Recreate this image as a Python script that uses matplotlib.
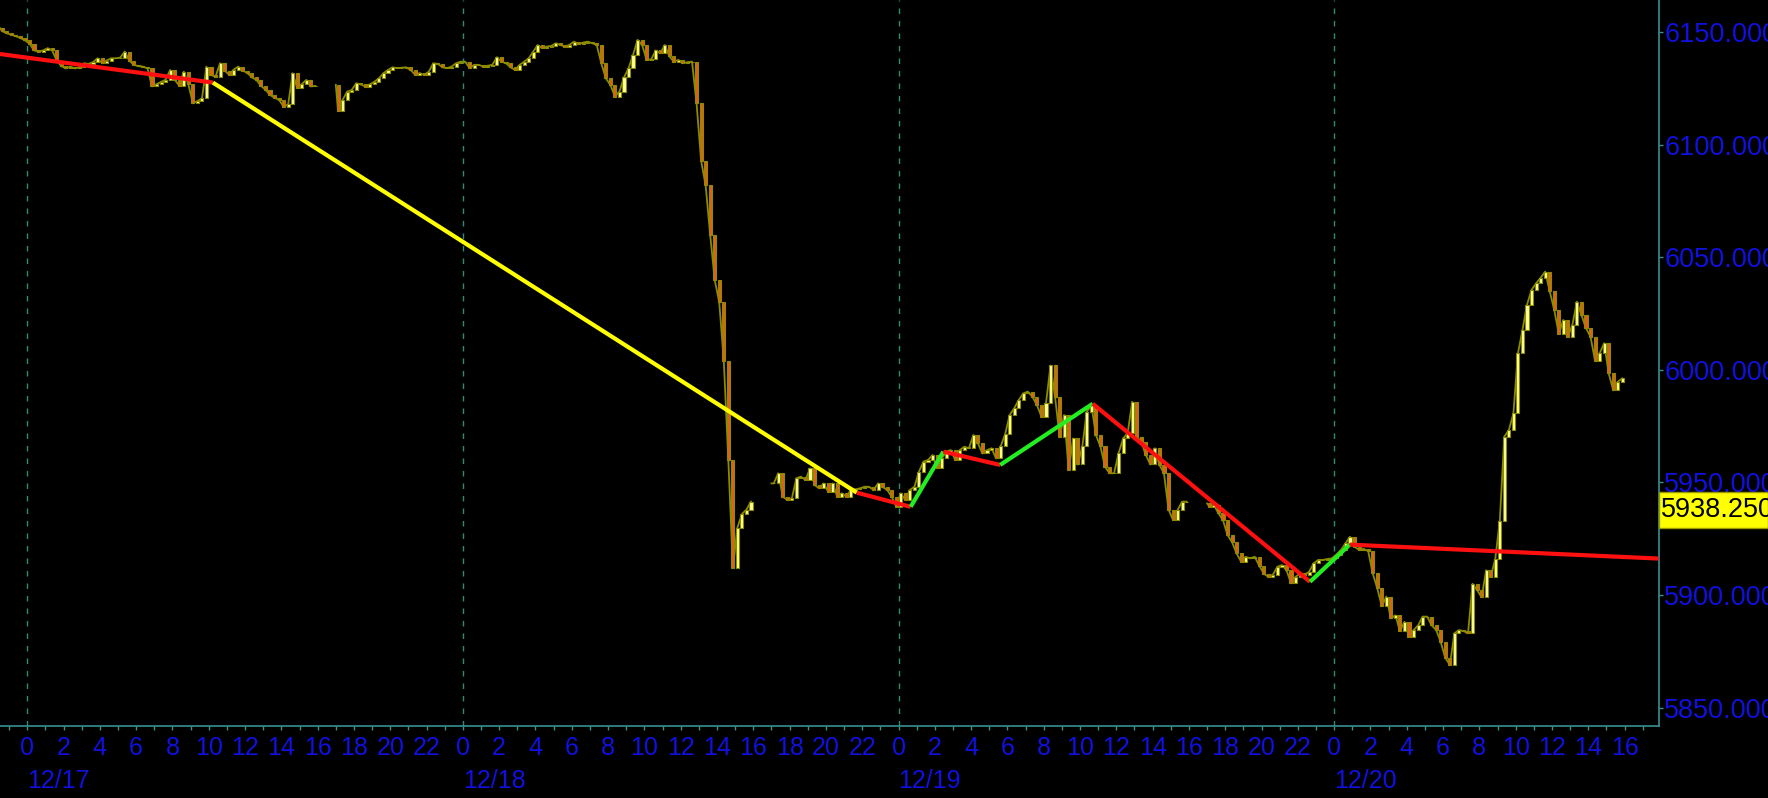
import numpy as np
import matplotlib.pyplot as plt
from matplotlib.patches import Rectangle
import matplotlib.transforms as mtransforms

plt.rcParams['font.family'] = ['Liberation Sans', 'DejaVu Sans']

# time axis: hours since 12/17 00:00, 15 minute bars
bar_step = 0.25
sess_start = [-1.5, 17.0, 41.0, 65.0]

# prices at each quarter hour mark of a session (first value = first open)
s1 = [6151.9, 6150.5, 6149.6, 6149.0, 6148.3, 6147.5, 6146.5, 6145.0, 6142.0, 6141.5,
      6142.0, 6143.0, 6142.0, 6137.5, 6135.0, 6134.0, 6134.8, 6134.0, 6134.5, 6136.3,
      6136.0, 6136.8, 6138.5, 6136.3, 6137.5, 6138.5, 6138.5, 6138.8, 6141.5, 6137.4,
      6135.6, 6135.0, 6134.8, 6134.0, 6126.0, 6127.0, 6128.0, 6129.0, 6133.3, 6129.0,
      6126.3, 6132.6, 6127.0, 6118.5, 6119.5, 6120.7, 6134.8, 6131.0, 6130.4, 6136.3,
      6133.0, 6131.2, 6133.5, 6134.8, 6133.0, 6132.0, 6130.0, 6128.9, 6126.3, 6124.5,
      6122.2, 6121.0, 6120.0, 6117.0, 6118.0, 6131.9, 6125.2, 6127.0, 6128.9, 6126.0,
      6126.2]
s2 = [6126.7, 6115.0, 6120.0, 6123.7, 6124.4, 6127.4, 6126.9, 6125.9, 6126.9, 6128.1,
      6129.6, 6131.9, 6133.3, 6134.5, 6134.1, 6134.3, 6134.5, 6133.3, 6131.1, 6131.9,
      6131.1, 6132.6, 6136.3, 6136.0, 6134.5, 6134.1, 6134.8, 6136.3, 6137.0, 6137.0,
      6134.1, 6135.6, 6135.6, 6134.8, 6135.2, 6135.6, 6139.0, 6137.0, 6136.3, 6134.5,
      6133.3, 6135.6, 6137.0, 6138.5, 6141.5, 6144.4, 6143.0, 6143.7, 6144.0, 6145.2,
      6144.4, 6143.7, 6144.5, 6145.9, 6144.8, 6145.5, 6145.9, 6145.2, 6144.4, 6136.3,
      6129.6, 6126.7, 6121.5, 6123.7, 6130.0, 6134.0, 6140.0, 6146.7, 6144.4, 6137.8,
      6138.0, 6142.0, 6140.7, 6144.4, 6139.3, 6137.0, 6137.8, 6136.3, 6136.8, 6137.0,
      6118.5, 6093.0, 6082.0, 6060.0, 6040.0, 6030.0, 6004.0, 5960.0, 5912.0, 5930.0,
      5936.0, 5938.0, 5941.5]
s3 = [5949.6, 5949.6, 5954.1, 5943.7, 5942.2, 5943.0, 5951.9, 5952.6, 5951.1, 5956.3,
      5948.9, 5947.4, 5949.6, 5945.9, 5949.6, 5943.7, 5945.2, 5943.7, 5946.7, 5947.0,
      5947.4, 5948.1, 5948.1, 5946.7, 5949.6, 5948.0, 5946.7, 5943.7, 5939.3, 5945.2,
      5942.2, 5946.7, 5948.1, 5954.8, 5959.3, 5960.0, 5962.2, 5956.3, 5960.7, 5963.7,
      5964.4, 5960.0, 5964.4, 5965.9, 5965.2, 5971.1, 5967.4, 5962.9, 5964.4, 5965.2,
      5960.7, 5966.0, 5971.5, 5980.0, 5983.0, 5986.7, 5989.6, 5990.4, 5988.1, 5984.4,
      5979.3, 5985.2, 6002.0, 5988.0, 5970.4, 5980.0, 5955.6, 5969.6, 5958.0, 5966.0,
      5981.5, 5984.4, 5971.1, 5966.0, 5957.0, 5954.1, 5954.1, 5963.0, 5969.6, 5971.9,
      5985.9, 5970.4, 5968.1, 5962.2, 5958.0, 5965.2, 5957.8, 5954.1, 5938.0, 5933.3,
      5937.8, 5941.5, 5941.5]
s4 = [5940.7, 5939.3, 5940.0, 5936.3, 5933.3, 5926.7, 5923.5, 5918.5, 5914.8, 5917.0,
      5916.3, 5917.0, 5913.0, 5909.5, 5908.1, 5909.0, 5912.6, 5913.3, 5911.0, 5905.2,
      5908.1, 5909.6, 5909.0, 5910.4, 5914.1, 5915.6, 5915.6, 5916.0, 5916.3, 5918.0,
      5920.0, 5923.0, 5925.9, 5921.5, 5920.0, 5920.5, 5919.5, 5909.6, 5903.0, 5895.0,
      5899.3, 5889.6, 5891.0, 5884.0, 5888.1, 5881.5, 5884.4, 5886.5, 5890.4, 5890.4,
      5886.5, 5884.4, 5879.0, 5872.0, 5869.0, 5883.0, 5884.4, 5884.0, 5883.0, 5905.0,
      5902.2, 5899.0, 5911.0, 5908.1, 5916.0, 5933.0, 5970.4, 5973.3, 5980.7, 6007.4,
      6017.8, 6029.0, 6035.6, 6038.5, 6041.0, 6043.7, 6035.0, 6026.7, 6016.0, 6022.2,
      6014.8, 6020.0, 6030.4, 6024.4, 6018.5, 6014.8, 6004.0, 6007.4, 6011.9, 5998.5,
      5991.0, 5994.8, 5996.3]
sessions = [s1, s2, s3, s4]

# zigzag pivots
zz_hours = [-1.5, 10.23, 45.7, 48.67, 50.47, 53.6, 58.7, 70.67, 72.86, 89.88]
zz_prices = [6140.4, 6127.7, 5945.5, 5939.2, 5963.7, 5957.8, 5985.0, 5905.9, 5922.4, 5916.2]
zz_colors = ['#ff1010', '#ffff00', '#ff1010', '#22ee22', '#ff1010',
             '#22ee22', '#ff1010', '#22ee22', '#ff1010']

dates = ['12/17', '12/18', '12/19', '12/20']
day_hours = [0, 24, 48, 72]
last_price = 5938.25

W, H = 1768, 798
teal = '#3a8f8f'
blue = '#1010e0'
olive = '#8c8c00'

fig = plt.figure(figsize=(W / 100, H / 100), dpi=100, facecolor='black')
ax = fig.add_axes([0, 1 - 726 / H, 1658.7 / W, 726 / H])
ax.set_facecolor('black')

for d in day_hours:
    ax.axvline(d, color='#2e8b76', lw=1, ls=(0, (4, 5)), zorder=1)

for start, prices in zip(sess_start, sessions):
    p = np.array(prices)
    o = p[:-1]
    c = p[1:]
    x = start + bar_step * np.arange(len(c)) + bar_step / 2
    up = c >= o
    # olive trace joining the bars, like the wicks in the original
    xs = np.concatenate([[start], x])
    ax.plot(xs, p, color=olive, lw=1.3, zorder=2)
    ax.bar(x[up], c[up] - o[up], bottom=o[up], width=0.17,
           color='#ffff99', edgecolor=olive, linewidth=0.8, zorder=2.5)
    ax.bar(x[~up], c[~up] - o[~up], bottom=o[~up], width=0.17,
           color='#e0601a', edgecolor=olive, linewidth=0.8, zorder=2.5)

for i in range(len(zz_hours) - 1):
    ax.plot(zz_hours[i:i + 2], zz_prices[i:i + 2], color=zz_colors[i],
            lw=3.0, solid_capstyle='butt', zorder=3)

ax.set_xlim(-1.5, 89.88)
ax.set_ylim(5841.8, 6164.4)

for s in ['left', 'top']:
    ax.spines[s].set_visible(False)
for s in ['bottom', 'right']:
    ax.spines[s].set_color(teal)
    ax.spines[s].set_linewidth(1.2)

hrs = np.arange(0, 89, 2)
ax.set_xticks(hrs)
ax.set_xticklabels([str(int(h) % 24) for h in hrs])
ax.set_xticks(np.arange(-1, 90, 1), minor=True)
ax.tick_params(axis='x', which='both', colors=teal, length=3, width=1,
               labelcolor=blue, labelsize=18, pad=4)

ax.yaxis.tick_right()
ax.set_yticks(np.arange(5850, 6151, 50))
ax.set_yticklabels(['%.3f' % v for v in np.arange(5850, 6151, 50)])
ax.tick_params(axis='y', colors=teal, length=3, width=1,
               labelcolor=blue, labelsize=19.5, pad=1)

tr = mtransforms.blended_transform_factory(ax.transData, fig.transFigure)
for d, lab in zip(day_hours, dates):
    ax.text(d, 1 - 781 / H, lab, transform=tr, color=blue, fontsize=18,
            ha='left', va='center', clip_on=False)

box = Rectangle((1659 / W, 1 - 527.7 / H), (W - 1659) / W, 36 / H,
                transform=fig.transFigure, facecolor='#ffff00',
                edgecolor='#9a9a00', lw=1)
fig.add_artist(box)
fig.text(1661 / W, 1 - 509.7 / H, '%.3f' % last_price, color='black',
         fontsize=19.5, ha='left', va='center')

fig.savefig('out.png', dpi=100, facecolor='black')
